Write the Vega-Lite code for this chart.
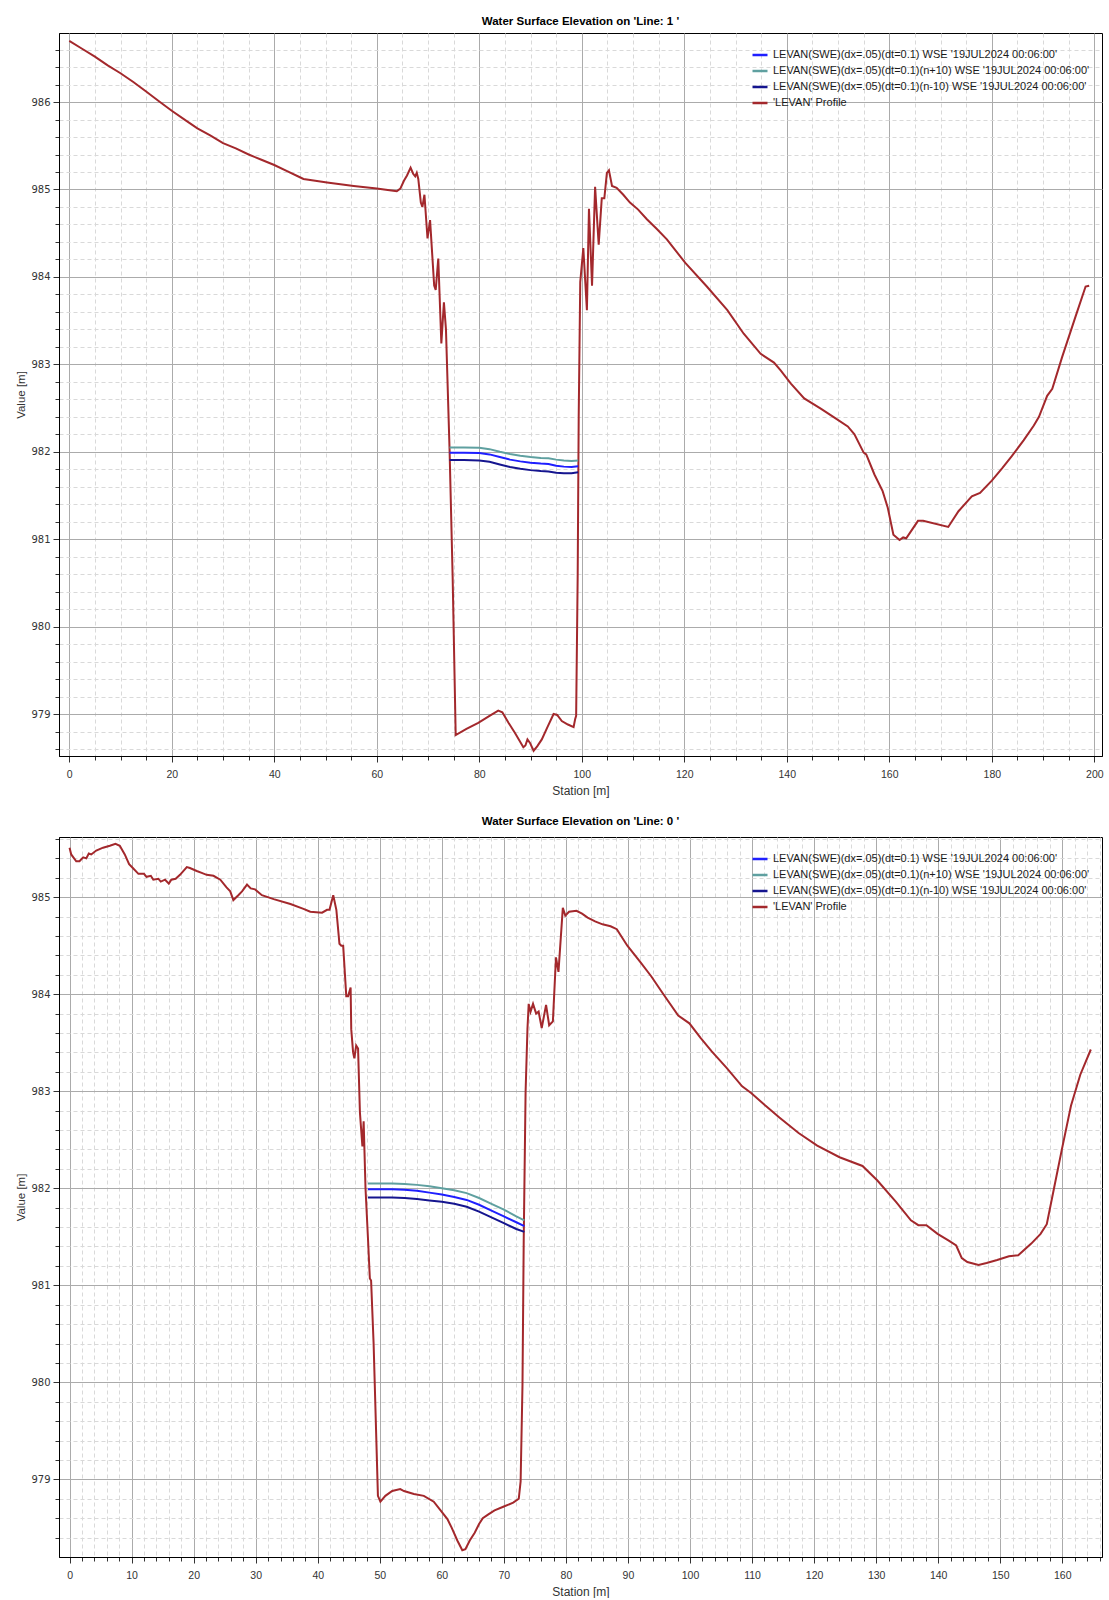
{
"$schema": "https://vega.github.io/schema/vega-lite/v6.json",
"background": "white",
"padding": {"left": 15, "top": 15, "right": 7, "bottom": 0},
"spacing": 18,
"resolve": {"scale": {"x": "independent", "y": "independent", "color": "shared"}, "legend": {"color": "independent"}},
"config": {
 "view": {"stroke": "#000000", "strokeWidth": 1},
 "font": "Liberation Sans",
 "title": {"font": "Liberation Sans", "fontSize": 11.5, "fontWeight": "bold", "color": "#000000", "offset": 6, "anchor": "middle"},
 "axis": {"domainColor": "#000000", "tickColor": "#333333", "labelColor": "#333333", "titleColor": "#333333", "titleFontWeight": "normal", "labelOverlap": false, "labelFlush": false, "grid": true, "tickCount": 500, "tickMinStep": 0.1},
 "axisX": {"labelFont": "Liberation Sans", "labelFontSize": 10.5, "labelPadding": 7, "titleFont": "Liberation Sans", "titleFontSize": 12, "titlePadding": 6},
 "axisY": {"labelFont": "DejaVu Sans", "labelFontSize": 10, "labelPadding": 3, "titleFont": "Liberation Sans", "titleFontSize": 11.5, "titlePadding": 4},
 "legend": {"orient": "none", "legendX": 692, "legendY": 13, "title": null, "symbolType": "stroke", "symbolSize": 225, "symbolStrokeWidth": 2.5, "labelFont": "Liberation Sans", "labelFontSize": 11, "labelColor": "#1a1a1a", "rowPadding": 2, "padding": 0, "labelOffset": 4, "labelLimit": 500}
},
"datasets": {
 "names": [
  {"s": "a", "series": "LEVAN(SWE)(dx=.05)(dt=0.1) WSE '19JUL2024 00:06:00'"},
  {"s": "b", "series": "LEVAN(SWE)(dx=.05)(dt=0.1)(n+10) WSE '19JUL2024 00:06:00'"},
  {"s": "c", "series": "LEVAN(SWE)(dx=.05)(dt=0.1)(n-10) WSE '19JUL2024 00:06:00'"},
  {"s": "p", "series": "'LEVAN' Profile"}
 ],
 "l1": [
  {"s":"p","x":0,"y":986.70},{"s":"p","x":2.5,"y":986.61},{"s":"p","x":5,"y":986.52},{"s":"p","x":7.5,"y":986.42},{"s":"p","x":10,"y":986.33},{"s":"p","x":12.5,"y":986.23},{"s":"p","x":15,"y":986.12},{"s":"p","x":17.5,"y":986.01},{"s":"p","x":20,"y":985.90},{"s":"p","x":22.5,"y":985.80},{"s":"p","x":25,"y":985.70},{"s":"p","x":27.5,"y":985.62},{"s":"p","x":30,"y":985.53},{"s":"p","x":32.5,"y":985.47},{"s":"p","x":35,"y":985.40},{"s":"p","x":37.5,"y":985.34},{"s":"p","x":40,"y":985.28},{"s":"p","x":42.5,"y":985.21},{"s":"p","x":45,"y":985.14},{"s":"p","x":45.7,"y":985.12},{"s":"p","x":48,"y":985.10},{"s":"p","x":50.3,"y":985.08},{"s":"p","x":55.5,"y":985.04},{"s":"p","x":60,"y":985.01},{"s":"p","x":62.5,"y":984.99},{"s":"p","x":63.9,"y":984.98},{"s":"p","x":64.6,"y":985.01},{"s":"p","x":65.3,"y":985.10},{"s":"p","x":65.9,"y":985.16},{"s":"p","x":66.6,"y":985.25},{"s":"p","x":67.1,"y":985.18},{"s":"p","x":67.5,"y":985.15},{"s":"p","x":67.8,"y":985.19},{"s":"p","x":68.1,"y":985.12},{"s":"p","x":68.6,"y":984.85},{"s":"p","x":68.9,"y":984.80},{"s":"p","x":69.3,"y":984.94},{"s":"p","x":69.9,"y":984.44},{"s":"p","x":70.4,"y":984.65},{"s":"p","x":71.2,"y":983.90},{"s":"p","x":71.5,"y":983.85},{"s":"p","x":72.0,"y":984.21},{"s":"p","x":72.6,"y":983.24},{"s":"p","x":73.1,"y":983.71},{"s":"p","x":73.5,"y":983.40},{"s":"p","x":74.2,"y":982.03},{"s":"p","x":74.8,"y":980.58},{"s":"p","x":75.4,"y":978.76},{"s":"p","x":77.5,"y":978.83},{"s":"p","x":79.8,"y":978.90},{"s":"p","x":82,"y":978.98},{"s":"p","x":83.7,"y":979.04},{"s":"p","x":84.5,"y":979.02},{"s":"p","x":85.7,"y":978.90},{"s":"p","x":87,"y":978.78},{"s":"p","x":88.6,"y":978.62},{"s":"p","x":89.0,"y":978.64},{"s":"p","x":89.4,"y":978.71},{"s":"p","x":89.9,"y":978.67},{"s":"p","x":90.6,"y":978.58},{"s":"p","x":91.3,"y":978.63},{"s":"p","x":92.2,"y":978.71},{"s":"p","x":93.3,"y":978.85},{"s":"p","x":94.5,"y":979.00},{"s":"p","x":95.2,"y":978.99},{"s":"p","x":96.1,"y":978.92},{"s":"p","x":97.3,"y":978.88},{"s":"p","x":98.4,"y":978.85},{"s":"p","x":98.7,"y":978.94},{"s":"p","x":98.9,"y":978.98},{"s":"p","x":99.2,"y":980.58},{"s":"p","x":99.4,"y":982.40},{"s":"p","x":99.7,"y":983.94},{"s":"p","x":100.3,"y":984.33},{"s":"p","x":101.0,"y":983.62},{"s":"p","x":101.4,"y":984.78},{"s":"p","x":102.0,"y":983.90},{"s":"p","x":102.6,"y":985.03},{"s":"p","x":103.3,"y":984.37},{"s":"p","x":103.9,"y":984.90},{"s":"p","x":104.4,"y":984.90},{"s":"p","x":104.9,"y":985.19},{"s":"p","x":105.3,"y":985.22},{"s":"p","x":105.9,"y":985.04},{"s":"p","x":106.8,"y":985.02},{"s":"p","x":108.1,"y":984.94},{"s":"p","x":109.4,"y":984.85},{"s":"p","x":111.0,"y":984.77},{"s":"p","x":112.7,"y":984.66},{"s":"p","x":114.6,"y":984.55},{"s":"p","x":116.6,"y":984.43},{"s":"p","x":120.2,"y":984.16},{"s":"p","x":124.4,"y":983.89},{"s":"p","x":128.4,"y":983.62},{"s":"p","x":131.6,"y":983.35},{"s":"p","x":134.9,"y":983.12},{"s":"p","x":137.5,"y":983.02},{"s":"p","x":138.8,"y":982.93},{"s":"p","x":140.8,"y":982.78},{"s":"p","x":143.4,"y":982.61},{"s":"p","x":146.7,"y":982.49},{"s":"p","x":149.3,"y":982.39},{"s":"p","x":151.9,"y":982.29},{"s":"p","x":153.2,"y":982.20},{"s":"p","x":155.0,"y":981.99},{"s":"p","x":155.5,"y":981.97},{"s":"p","x":157.1,"y":981.74},{"s":"p","x":158.7,"y":981.55},{"s":"p","x":159.7,"y":981.36},{"s":"p","x":160.8,"y":981.05},{"s":"p","x":162.0,"y":980.99},{"s":"p","x":162.7,"y":981.02},{"s":"p","x":163.3,"y":981.01},{"s":"p","x":165.6,"y":981.21},{"s":"p","x":166.6,"y":981.21},{"s":"p","x":171.5,"y":981.14},{"s":"p","x":173.5,"y":981.32},{"s":"p","x":176.1,"y":981.49},{"s":"p","x":177.7,"y":981.53},{"s":"p","x":180.0,"y":981.67},{"s":"p","x":182.0,"y":981.81},{"s":"p","x":183.9,"y":981.95},{"s":"p","x":186.2,"y":982.13},{"s":"p","x":188.2,"y":982.30},{"s":"p","x":189.2,"y":982.40},{"s":"p","x":190.8,"y":982.64},{"s":"p","x":191.8,"y":982.72},{"s":"p","x":193.7,"y":983.08},{"s":"p","x":196.3,"y":983.54},{"s":"p","x":198.3,"y":983.89},{"s":"p","x":199.0,"y":983.90},
  {"s":"b","x":74.2,"y":982.05},{"s":"b","x":77,"y":982.05},{"s":"b","x":80,"y":982.045},{"s":"b","x":82,"y":982.03},{"s":"b","x":84,"y":982.0},{"s":"b","x":86,"y":981.975},{"s":"b","x":88,"y":981.955},{"s":"b","x":90,"y":981.94},{"s":"b","x":92,"y":981.93},{"s":"b","x":93.5,"y":981.925},{"s":"b","x":95,"y":981.91},{"s":"b","x":96.5,"y":981.9},{"s":"b","x":98,"y":981.895},{"s":"b","x":99.3,"y":981.9},
  {"s":"a","x":74.2,"y":981.99},{"s":"a","x":77,"y":981.99},{"s":"a","x":80,"y":981.985},{"s":"a","x":82,"y":981.97},{"s":"a","x":84,"y":981.94},{"s":"a","x":86,"y":981.91},{"s":"a","x":88,"y":981.89},{"s":"a","x":90,"y":981.875},{"s":"a","x":92,"y":981.865},{"s":"a","x":93.5,"y":981.86},{"s":"a","x":95,"y":981.84},{"s":"a","x":96.5,"y":981.83},{"s":"a","x":98,"y":981.827},{"s":"a","x":99.3,"y":981.835},
  {"s":"c","x":74.2,"y":981.905},{"s":"c","x":77,"y":981.905},{"s":"c","x":80,"y":981.9},{"s":"c","x":82,"y":981.885},{"s":"c","x":84,"y":981.855},{"s":"c","x":86,"y":981.825},{"s":"c","x":88,"y":981.805},{"s":"c","x":90,"y":981.79},{"s":"c","x":92,"y":981.78},{"s":"c","x":93.5,"y":981.775},{"s":"c","x":95,"y":981.76},{"s":"c","x":96.5,"y":981.755},{"s":"c","x":98,"y":981.755},{"s":"c","x":99.3,"y":981.765}
 ],
 "l0": [
  {"s":"p","x":0,"y":985.51},{"s":"p","x":0.27,"y":985.44},{"s":"p","x":1.08,"y":985.37},{"s":"p","x":1.6,"y":985.37},{"s":"p","x":2.2,"y":985.41},{"s":"p","x":2.7,"y":985.40},{"s":"p","x":3.1,"y":985.45},{"s":"p","x":3.5,"y":985.44},{"s":"p","x":4.3,"y":985.48},{"s":"p","x":5.4,"y":985.51},{"s":"p","x":6.5,"y":985.53},{"s":"p","x":7.4,"y":985.55},{"s":"p","x":8.1,"y":985.53},{"s":"p","x":8.9,"y":985.44},{"s":"p","x":9.6,"y":985.34},{"s":"p","x":10.2,"y":985.30},{"s":"p","x":11.1,"y":985.24},{"s":"p","x":12.0,"y":985.24},{"s":"p","x":12.4,"y":985.21},{"s":"p","x":13.1,"y":985.22},{"s":"p","x":13.5,"y":985.18},{"s":"p","x":14.3,"y":985.19},{"s":"p","x":14.7,"y":985.16},{"s":"p","x":15.4,"y":985.18},{"s":"p","x":16.0,"y":985.14},{"s":"p","x":16.4,"y":985.18},{"s":"p","x":17.1,"y":985.19},{"s":"p","x":17.8,"y":985.23},{"s":"p","x":18.9,"y":985.31},{"s":"p","x":19.4,"y":985.30},{"s":"p","x":20.5,"y":985.27},{"s":"p","x":21.3,"y":985.25},{"s":"p","x":22.1,"y":985.23},{"s":"p","x":23.2,"y":985.22},{"s":"p","x":24.3,"y":985.18},{"s":"p","x":25.3,"y":985.10},{"s":"p","x":25.9,"y":985.06},{"s":"p","x":26.4,"y":984.97},{"s":"p","x":27.2,"y":985.02},{"s":"p","x":27.8,"y":985.06},{"s":"p","x":28.6,"y":985.13},{"s":"p","x":29.2,"y":985.09},{"s":"p","x":29.9,"y":985.08},{"s":"p","x":31.0,"y":985.02},{"s":"p","x":32.9,"y":984.98},{"s":"p","x":35.6,"y":984.93},{"s":"p","x":37.7,"y":984.88},{"s":"p","x":38.8,"y":984.85},{"s":"p","x":40.7,"y":984.84},{"s":"p","x":41.5,"y":984.87},{"s":"p","x":41.9,"y":984.87},{"s":"p","x":42.5,"y":985.02},{"s":"p","x":43.0,"y":984.87},{"s":"p","x":43.5,"y":984.52},{"s":"p","x":43.8,"y":984.50},{"s":"p","x":44.1,"y":984.50},{"s":"p","x":44.6,"y":983.98},{"s":"p","x":44.9,"y":983.98},{"s":"p","x":45.3,"y":984.07},{"s":"p","x":45.4,"y":983.64},{"s":"p","x":45.7,"y":983.40},{"s":"p","x":45.9,"y":983.34},{"s":"p","x":46.2,"y":983.47},{"s":"p","x":46.5,"y":983.44},{"s":"p","x":46.8,"y":982.78},{"s":"p","x":47.2,"y":982.43},{"s":"p","x":47.4,"y":982.69},{"s":"p","x":47.7,"y":982.00},{"s":"p","x":48.1,"y":981.48},{"s":"p","x":48.4,"y":981.07},{"s":"p","x":48.6,"y":981.05},{"s":"p","x":49.0,"y":980.41},{"s":"p","x":49.7,"y":978.83},{"s":"p","x":50.1,"y":978.77},{"s":"p","x":50.9,"y":978.83},{"s":"p","x":52.0,"y":978.88},{"s":"p","x":53.3,"y":978.90},{"s":"p","x":53.9,"y":978.88},{"s":"p","x":55.5,"y":978.85},{"s":"p","x":57.1,"y":978.83},{"s":"p","x":58.7,"y":978.77},{"s":"p","x":59.8,"y":978.68},{"s":"p","x":60.9,"y":978.59},{"s":"p","x":61.6,"y":978.50},{"s":"p","x":62.5,"y":978.37},{"s":"p","x":63.3,"y":978.27},{"s":"p","x":63.8,"y":978.28},{"s":"p","x":64.5,"y":978.37},{"s":"p","x":65.3,"y":978.45},{"s":"p","x":66.0,"y":978.54},{"s":"p","x":66.6,"y":978.60},{"s":"p","x":67.5,"y":978.64},{"s":"p","x":68.5,"y":978.68},{"s":"p","x":70.0,"y":978.72},{"s":"p","x":71.5,"y":978.76},{"s":"p","x":72.4,"y":978.80},{"s":"p","x":72.7,"y":978.98},{"s":"p","x":73.0,"y":979.97},{"s":"p","x":73.2,"y":981.48},{"s":"p","x":73.5,"y":982.99},{"s":"p","x":73.8,"y":983.64},{"s":"p","x":74.0,"y":983.90},{"s":"p","x":74.3,"y":983.82},{"s":"p","x":74.7,"y":983.90},{"s":"p","x":75.2,"y":983.80},{"s":"p","x":75.6,"y":983.82},{"s":"p","x":76.1,"y":983.65},{"s":"p","x":76.8,"y":983.89},{"s":"p","x":77.3,"y":983.68},{"s":"p","x":77.9,"y":983.72},{"s":"p","x":78.4,"y":984.38},{"s":"p","x":78.8,"y":984.23},{"s":"p","x":79.5,"y":984.89},{"s":"p","x":79.9,"y":984.81},{"s":"p","x":80.5,"y":984.85},{"s":"p","x":81.7,"y":984.86},{"s":"p","x":82.6,"y":984.83},{"s":"p","x":83.5,"y":984.79},{"s":"p","x":84.7,"y":984.75},{"s":"p","x":85.9,"y":984.72},{"s":"p","x":87.2,"y":984.70},{"s":"p","x":88.2,"y":984.67},{"s":"p","x":89.9,"y":984.50},{"s":"p","x":92.0,"y":984.33},{"s":"p","x":93.8,"y":984.18},{"s":"p","x":95.6,"y":984.01},{"s":"p","x":98.1,"y":983.78},{"s":"p","x":99.9,"y":983.70},{"s":"p","x":101.7,"y":983.55},{"s":"p","x":103.5,"y":983.41},{"s":"p","x":105.9,"y":983.24},{"s":"p","x":108.4,"y":983.05},{"s":"p","x":109.9,"y":982.98},{"s":"p","x":112.0,"y":982.86},{"s":"p","x":114.4,"y":982.73},{"s":"p","x":117.5,"y":982.57},{"s":"p","x":120.5,"y":982.44},{"s":"p","x":124.1,"y":982.32},{"s":"p","x":127.8,"y":982.23},{"s":"p","x":130.2,"y":982.08},{"s":"p","x":133.2,"y":981.86},{"s":"p","x":135.6,"y":981.67},{"s":"p","x":136.8,"y":981.62},{"s":"p","x":138.1,"y":981.62},{"s":"p","x":139.9,"y":981.53},{"s":"p","x":141.7,"y":981.46},{"s":"p","x":142.9,"y":981.41},{"s":"p","x":143.8,"y":981.28},{"s":"p","x":144.7,"y":981.24},{"s":"p","x":146.5,"y":981.21},{"s":"p","x":147.8,"y":981.23},{"s":"p","x":149.5,"y":981.26},{"s":"p","x":151.4,"y":981.30},{"s":"p","x":152.9,"y":981.31},{"s":"p","x":155.0,"y":981.43},{"s":"p","x":156.5,"y":981.53},{"s":"p","x":157.5,"y":981.63},{"s":"p","x":158.7,"y":982.01},{"s":"p","x":159.9,"y":982.39},{"s":"p","x":161.4,"y":982.85},{"s":"p","x":162.9,"y":983.17},{"s":"p","x":164.6,"y":983.43},
  {"s":"b","x":48.1,"y":982.05},{"s":"b","x":50,"y":982.05},{"s":"b","x":52,"y":982.05},{"s":"b","x":54,"y":982.045},{"s":"b","x":56,"y":982.035},{"s":"b","x":58,"y":982.02},{"s":"b","x":60,"y":982.0},{"s":"b","x":62,"y":981.98},{"s":"b","x":64,"y":981.95},{"s":"b","x":66,"y":981.9},{"s":"b","x":68,"y":981.84},{"s":"b","x":70,"y":981.78},{"s":"b","x":72,"y":981.71},{"s":"b","x":73.3,"y":981.67},
  {"s":"a","x":48.1,"y":981.99},{"s":"a","x":50,"y":981.99},{"s":"a","x":52,"y":981.99},{"s":"a","x":54,"y":981.985},{"s":"a","x":56,"y":981.975},{"s":"a","x":58,"y":981.955},{"s":"a","x":60,"y":981.935},{"s":"a","x":62,"y":981.91},{"s":"a","x":64,"y":981.88},{"s":"a","x":66,"y":981.83},{"s":"a","x":68,"y":981.77},{"s":"a","x":70,"y":981.71},{"s":"a","x":72,"y":981.65},{"s":"a","x":73.3,"y":981.61},
  {"s":"c","x":48.1,"y":981.905},{"s":"c","x":50,"y":981.905},{"s":"c","x":52,"y":981.905},{"s":"c","x":54,"y":981.9},{"s":"c","x":56,"y":981.89},{"s":"c","x":58,"y":981.875},{"s":"c","x":60,"y":981.86},{"s":"c","x":62,"y":981.84},{"s":"c","x":64,"y":981.81},{"s":"c","x":66,"y":981.76},{"s":"c","x":68,"y":981.7},{"s":"c","x":70,"y":981.64},{"s":"c","x":72,"y":981.58},{"s":"c","x":73.3,"y":981.55}
 ]
},
"vconcat": [
 {
  "title": "Water Surface Elevation on 'Line: 1 '",
  "width": 1043, "height": 723,
  "data": {"name": "l1"},
  "transform": [{"lookup": "s", "from": {"data": {"name": "names"}, "key": "s", "fields": ["series"]}}],
  "mark": {"type": "line", "strokeWidth": 2, "clip": true},
  "encoding": {
   "x": {"field": "x", "type": "quantitative", "scale": {"domain": [-2, 201.5], "nice": false, "zero": false},
    "axis": {"title": "Station [m]", "format": "d", "tickCount": 500, "values": [0,5,10,15,20,25,30,35,40,45,50,55,60,65,70,75,80,85,90,95,100,105,110,115,120,125,130,135,140,145,150,155,160,165,170,175,180,185,190,195,200],
     "labelExpr": "datum.value % 20 === 0 ? datum.label : ''",
     "gridColor": {"condition": {"test": "datum.value % 20 === 0", "value": "#ababab"}, "value": "#d9d9d9"},
     "gridDash": {"condition": {"test": "datum.value % 20 === 0", "value": []}, "value": [4, 3]},
     "tickSize": {"condition": {"test": "datum.value % 20 === 0", "value": 6}, "value": 4}}},
   "y": {"field": "y", "type": "quantitative", "scale": {"domain": [978.52, 986.79], "nice": false, "zero": false},
    "axis": {"title": "Value [m]", "tickCount": 500, "tickMinStep": 0.1, "values": [978.6,978.8,979,979.2,979.4,979.6,979.8,980,980.2,980.4,980.6,980.8,981,981.2,981.4,981.6,981.8,982,982.2,982.4,982.6,982.8,983,983.2,983.4,983.6,983.8,984,984.2,984.4,984.6,984.8,985,985.2,985.4,985.6,985.8,986,986.2,986.4,986.6],
     "labelExpr": "abs(datum.value - round(datum.value)) < 0.01 ? toString(round(datum.value)) : ''",
     "gridColor": {"condition": {"test": "abs(datum.value - round(datum.value)) < 0.01", "value": "#ababab"}, "value": "#d9d9d9"},
     "gridDash": {"condition": {"test": "abs(datum.value - round(datum.value)) < 0.01", "value": []}, "value": [4, 3]},
     "tickSize": {"condition": {"test": "abs(datum.value - round(datum.value)) < 0.01", "value": 6}, "value": 4}}},
   "color": {"field": "series", "type": "nominal",
    "scale": {"domain": ["LEVAN(SWE)(dx=.05)(dt=0.1) WSE '19JUL2024 00:06:00'", "LEVAN(SWE)(dx=.05)(dt=0.1)(n+10) WSE '19JUL2024 00:06:00'", "LEVAN(SWE)(dx=.05)(dt=0.1)(n-10) WSE '19JUL2024 00:06:00'", "'LEVAN' Profile"],
     "range": ["#1f1fff", "#5fa0a0", "#15158f", "#a3282c"]}}
  }
 },
 {
  "title": "Water Surface Elevation on 'Line: 0 '",
  "width": 1043, "height": 720,
  "data": {"name": "l0"},
  "transform": [{"lookup": "s", "from": {"data": {"name": "names"}, "key": "s", "fields": ["series"]}}],
  "mark": {"type": "line", "strokeWidth": 2, "clip": true},
  "encoding": {
   "x": {"field": "x", "type": "quantitative", "scale": {"domain": [-1.7, 166.4], "nice": false, "zero": false},
    "axis": {"title": "Station [m]", "format": "d", "tickCount": 500, "values": [0,2,4,6,8,10,12,14,16,18,20,22,24,26,28,30,32,34,36,38,40,42,44,46,48,50,52,54,56,58,60,62,64,66,68,70,72,74,76,78,80,82,84,86,88,90,92,94,96,98,100,102,104,106,108,110,112,114,116,118,120,122,124,126,128,130,132,134,136,138,140,142,144,146,148,150,152,154,156,158,160,162,164,166],
     "labelExpr": "datum.value % 10 === 0 ? datum.label : ''",
     "gridColor": {"condition": {"test": "datum.value % 10 === 0", "value": "#ababab"}, "value": "#d9d9d9"},
     "gridDash": {"condition": {"test": "datum.value % 10 === 0", "value": []}, "value": [4, 3]},
     "tickSize": {"condition": {"test": "datum.value % 10 === 0", "value": 6}, "value": 4}}},
   "y": {"field": "y", "type": "quantitative", "scale": {"domain": [978.2, 985.62], "nice": false, "zero": false},
    "axis": {"title": "Value [m]", "tickCount": 500, "tickMinStep": 0.1, "values": [978.4,978.6,978.8,979,979.2,979.4,979.6,979.8,980,980.2,980.4,980.6,980.8,981,981.2,981.4,981.6,981.8,982,982.2,982.4,982.6,982.8,983,983.2,983.4,983.6,983.8,984,984.2,984.4,984.6,984.8,985,985.2,985.4,985.6],
     "labelExpr": "abs(datum.value - round(datum.value)) < 0.01 ? toString(round(datum.value)) : ''",
     "gridColor": {"condition": {"test": "abs(datum.value - round(datum.value)) < 0.01", "value": "#ababab"}, "value": "#d9d9d9"},
     "gridDash": {"condition": {"test": "abs(datum.value - round(datum.value)) < 0.01", "value": []}, "value": [4, 3]},
     "tickSize": {"condition": {"test": "abs(datum.value - round(datum.value)) < 0.01", "value": 6}, "value": 4}}},
   "color": {"field": "series", "type": "nominal",
    "scale": {"domain": ["LEVAN(SWE)(dx=.05)(dt=0.1) WSE '19JUL2024 00:06:00'", "LEVAN(SWE)(dx=.05)(dt=0.1)(n+10) WSE '19JUL2024 00:06:00'", "LEVAN(SWE)(dx=.05)(dt=0.1)(n-10) WSE '19JUL2024 00:06:00'", "'LEVAN' Profile"],
     "range": ["#1f1fff", "#5fa0a0", "#15158f", "#a3282c"]}}
  }
 }
]
}
